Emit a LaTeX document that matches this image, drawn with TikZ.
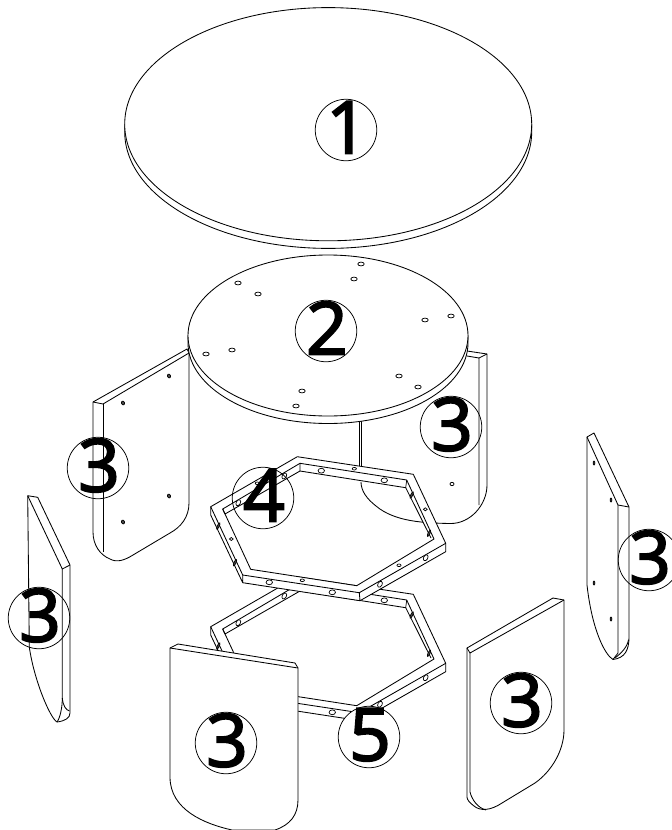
\documentclass[tikz,border=0pt]{standalone}
\usepackage{fontspec}
\setmainfont{Open Sans}
\newfontfamily\digitfont[FakeBold=2.6]{Open Sans}
\newcommand{\digitmark}[1]{\makebox[0pt]{\hspace{2pt}\raisebox{-23.5pt}[0pt][0pt]{\digitfont\fontsize{73}{73}\selectfont #1}}}
\tikzset{
  part/.style={draw=black,line width=0.85pt,fill=white,line join=round},
  edge/.style={draw=black,line width=0.85pt,line join=round},
  thin edge/.style={draw=black,line width=0.7pt},
  hole/.style={draw=black,line width=0.7pt,fill=white},
  dark hole/.style={draw=black,line width=0.7pt,fill=black!70},
  tag/.style={circle,draw=black,line width=0.75pt,minimum size=61.5pt,inner sep=0pt}
}
\newcommand{\hexframe}[1]{%
\begin{scope}[shift={(0,#1)}]
  \path[fill=white,even odd rule]
    (210.7,506.7)--(297.3,456.7)--(413.3,474.3)--(445.7,543.3)--(445.7,551.7)--(360,600.7)--(242.7,582.7)--(210.7,515)--cycle
    (225,514)--(300,471)--(405.7,487.7)--(431,538)--(356.7,585.7)--(250.7,569.3)--cycle;
  \draw[edge] (210.7,506.7)--(297.3,456.7)--(413.3,474.3)--(445.7,543.3)--(359.3,592.7)--(242.7,575)--cycle;
  \draw[edge] (210.7,506.7)--(210.7,515)--(242.7,582.7)--(242.7,575);
  \draw[edge] (242.7,582.7)--(360,600.7)--(445.7,551.7)--(445.7,543.3);
  \draw[edge] (359.3,592.7)--(360,600.7);
  \draw[edge] (222.7,509)--(300,463.3)--(406.7,480)--(434,539)--(356.7,585.7)--(250.7,569.3)--cycle;
  \draw[edge] (222.7,509)--(225,514)--(300,471)--(405.7,487.7)--(431,538);
  \draw[thin edge] (300,463.3)--(300,471) (406.7,480)--(405.7,487.7);
  \foreach \p/\r in {269.3/582.3,332.3/592.3,321.3/470.7,384.3/480.3}
    \draw[hole] (\p,\r) ellipse[x radius=3.2,y radius=2.4];
  \foreach \p/\r in {380/584.3,425.7/557.7,238.3/502.7,284.3/476}
    \draw[hole,rotate around={60:(\p,\r)}] (\p,\r) ellipse[x radius=3.2,y radius=2.1];
  \foreach \p/\r in {411.7/495,429/533.3,218.3/526,235/562.7}
    \draw[dark hole,rotate around={-25:(\p,\r)}] (\p,\r) ellipse[x radius=1,y radius=3.4];
\end{scope}}
\begin{document}
\begin{tikzpicture}[x=1pt,y=-1pt]
\useasboundingbox (0,0) rectangle (672,830);
\fill[white] (0,0) rectangle (672,830);
% Part 1 top disc
\draw[part] (124.7,124.2) -- (124.7,131.8) arc[x radius=203.5,y radius=116.6,start angle=180,end angle=0] -- (531.7,124.2) -- cycle;
\draw[part] (328.2,124.2) ellipse[x radius=203.5,y radius=116.6];
% back panels
\draw[part] (93,402)--(187,349)--(189,353)--(189,503)
  .. controls (189,517) and (181,527) .. (170,533)
  -- (133,555)
  .. controls (125,560) and (117,563) .. (110,559)
  .. controls (100,555) and (93,545) .. (93,532)--cycle;
\draw[edge] (93,402)--(103,404)--(189,353);
\draw[edge] (103,404)--(103,552);
\foreach \p/\r in {169/376,123/403,169/496,123/522}
  \draw[dark hole,rotate around={20:(\p,\r)}] (\p,\r) ellipse[x radius=1.5,y radius=2];
\draw[edge] (467,351)--(487,354)--(487,485)
  .. controls (487,505) and (470,524) .. (450,523.5)
  .. controls (425,523) and (395,522) .. (376,506)
  .. controls (367,499) and (361,491) .. (361,482);
\draw[edge] (467,356)--(479,358)--(479,505);
\draw[edge] (479,358)--(487,354);
\draw[edge] (359,415)--(359,470) (361.3,415)--(361.3,470);
\draw[hole] (452,484) ellipse[x radius=2,y radius=1.7];
% Part 2 disc
\draw[part] (188,335.5) -- (188,343) arc[x radius=140,y radius=80.5,start angle=180,end angle=0] -- (468,335.5) -- cycle;
\draw[part] (328,335.5) ellipse[x radius=140,y radius=80.5];
\foreach \p/\r in {361/264,354/279,238/283,258/294,451/316,425/320,232/350,206/354,399/376,418/387,302/391,296/406}
  \draw[hole] (\p,\r) ellipse[x radius=3.2,y radius=1.9];
% Frames
\hexframe{120}
\hexframe{0}
\foreach \p/\r in {302.3/580.3,354.3/468.7,399/565.3,257.3/483.3}
  \draw[hole] (\p,\r) ellipse[x radius=2.1,y radius=1.3];
\foreach \p/\r in {425.3/509.3,231.3/539}
  \draw[hole] (\p,\r) ellipse[x radius=1.9,y radius=1.5];
% far left panel
\draw[part] (27.7,495.7)--(37.7,497.3)--(70,565)--(70,713)
  .. controls (70,718) and (65,721) .. (57,722)
  .. controls (50,718) and (34,680) .. (29.3,647)--cycle;
\draw[edge] (27.7,495.7)--(62.3,569)--(70,565);
\draw[edge] (62.3,569)--(62.3,698) .. controls (62.3,708) and (60,718) .. (57,722);
\draw[edge] (62.3,698) .. controls (63,706) and (66,710) .. (69.5,711);
% far right panel
\draw[part] (587,437)--(594,433)--(629,507)--(629,637)
  .. controls (629,650) and (625,658) .. (613,659.5)
  .. controls (605,655) and (592,630) .. (587,585)--cycle;
\draw[edge] (587,437)--(618,505)--(629,507);
\draw[edge] (618,505)--(618,653) -- (613,659.5);
\draw[edge] (628.5,640) .. controls (627,648) and (620,654) .. (615,658);
\foreach \p/\r in {594/463,611/500,594/583,611/619}
  \draw[dark hole] (\p,\r) ellipse[x radius=0.9,y radius=2];
% front panel
\draw[part] (170,648)--(178,644)--(295,663)--(298,668)--(298,800)
  .. controls (298,815) and (290,825) .. (275,830)
  -- (232,830)
  .. controls (205,824) and (170,810) .. (170,777)--cycle;
\draw[edge] (170,648)--(298,668);
% front right panel
\draw[part] (467,648)--(553,598)--(564,600)--(564,730)
  .. controls (564,750) and (552,771) .. (535,783)
  -- (502,803)
  .. controls (490,811) and (480,811) .. (474,806)
  .. controls (470,803) and (467,800) .. (467,797)--cycle;
\draw[edge] (467,648)--(470,653)--(564,600);
\draw[edge] (470,653)--(470,792) .. controls (472,800) and (478,808) .. (486,810);
% labels
\node[tag] (n1) at (346,130) {\digitmark{1}};
\node[tag] (n2) at (326,331) {\digitmark{2}};
\node[tag] (n3a) at (451,427) {\digitmark{3}};
\node[tag] (n3b) at (98,468) {\digitmark{3}};
\node[tag] (n4) at (263,498) {\digitmark{4}};
\node[tag,fill=white] (n5) at (369,737) {\digitmark{5}};
\node[tag] (n3c) at (39,618) {\digitmark{3}};
\node[tag] (n3d) at (226,743) {\digitmark{3}};
\node[tag] (n3e) at (649,560) {\digitmark{3}};
\node[tag] (n3f) at (521,703) {\digitmark{3}};
\end{tikzpicture}
\end{document}
